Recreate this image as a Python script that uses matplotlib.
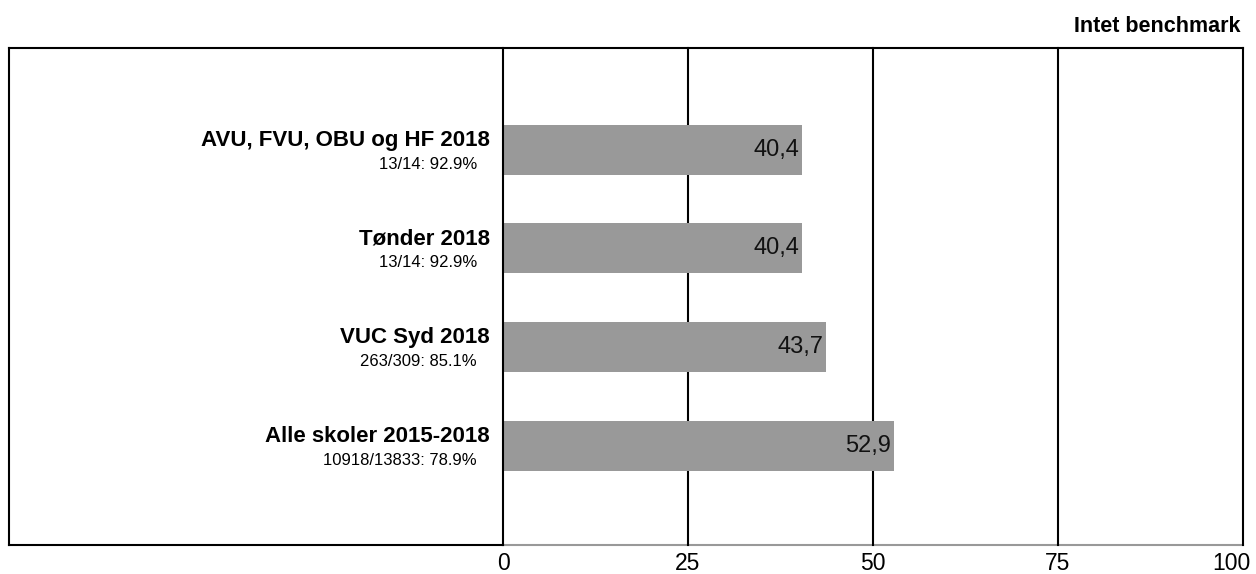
import matplotlib
matplotlib.use('Agg')
import matplotlib.pyplot as plt
import matplotlib.transforms as mtransforms
from matplotlib.lines import Line2D

plt.rcParams['font.family'] = ['Liberation Sans', 'DejaVu Sans']

# data
categories = ['AVU, FVU, OBU og HF 2018', 'Tønder 2018', 'VUC Syd 2018', 'Alle skoler 2015-2018']
sublabels = ['13/14: 92.9%', '13/14: 92.9%', '263/309: 85.1%', '10918/13833: 78.9%']
values = [40.4, 40.4, 43.7, 52.9]
value_labels = ['40,4', '40,4', '43,7', '52,9']
x_ticks = [0, 25, 50, 75, 100]
title = 'Intet benchmark'

W, H = 1256, 574
fig = plt.figure(figsize=(W / 100, H / 100), dpi=100)

# axes box in pixels
x0, x1 = 503, 1243
ytop, ybot = 48, 545
ax = fig.add_axes([x0 / W, 1 - ybot / H, (x1 - x0) / W, (ybot - ytop) / H])

pos = list(range(len(categories)))
for t in x_ticks:
    # the zero line stays in front of the bars
    ax.axvline(t, color='black', lw=1.5, zorder=3 if t == 0 else 1, clip_on=False)
ax.barh(pos, values, height=0.507, color='#999999', zorder=2)

for i, v in enumerate(values):
    ax.annotate(value_labels[i], xy=(v, i), xytext=(-3, 0), textcoords='offset pixels',
                ha='right', va='center', fontsize=17, color='#111111', zorder=3)
    ax.annotate(categories[i], xy=(0, i), xytext=(-13, 4), textcoords='offset pixels',
                ha='right', va='baseline', fontsize=16, fontweight='bold',
                annotation_clip=False)
    ax.annotate(sublabels[i], xy=(0, i), xytext=(-26, -19), textcoords='offset pixels',
                ha='right', va='baseline', fontsize=12, annotation_clip=False)

ax.set_xlim(0, 100)
ax.set_ylim(4.005, -1.03)
ax.set_yticks([])
ax.set_xticks(x_ticks)
ax.set_xticklabels([str(t) for t in x_ticks])
ax.tick_params(axis='x', length=0, pad=5, labelsize=16.5)
# last label pulled inside the picture, as in the original
lab = ax.get_xticklabels()[-1]
lab.set_transform(lab.get_transform() +
                  mtransforms.ScaledTranslation(-12 / 100, 0, fig.dpi_scale_trans))
for s in ['top', 'left', 'right']:
    ax.spines[s].set_visible(False)
ax.spines['bottom'].set_color('#999999')
ax.spines['bottom'].set_linewidth(1.5)
ax.spines['bottom'].set_zorder(0.5)

# outer frame on the label side
def fline(xa, ya, xb, yb, color='black'):
    fig.add_artist(Line2D([xa / W, xb / W], [1 - ya / H, 1 - yb / H],
                          transform=fig.transFigure, color=color, lw=1.5,
                          solid_capstyle='projecting'))

fline(9, ytop, 1243, ytop)
fline(9, ytop, 9, ybot)
fline(9, ybot, 503, ybot)

fig.text(1240 / W, 1 - 32 / H, title, ha='right', va='baseline',
         fontsize=15.5, fontweight='bold')

fig.savefig('out.png', dpi=100)
